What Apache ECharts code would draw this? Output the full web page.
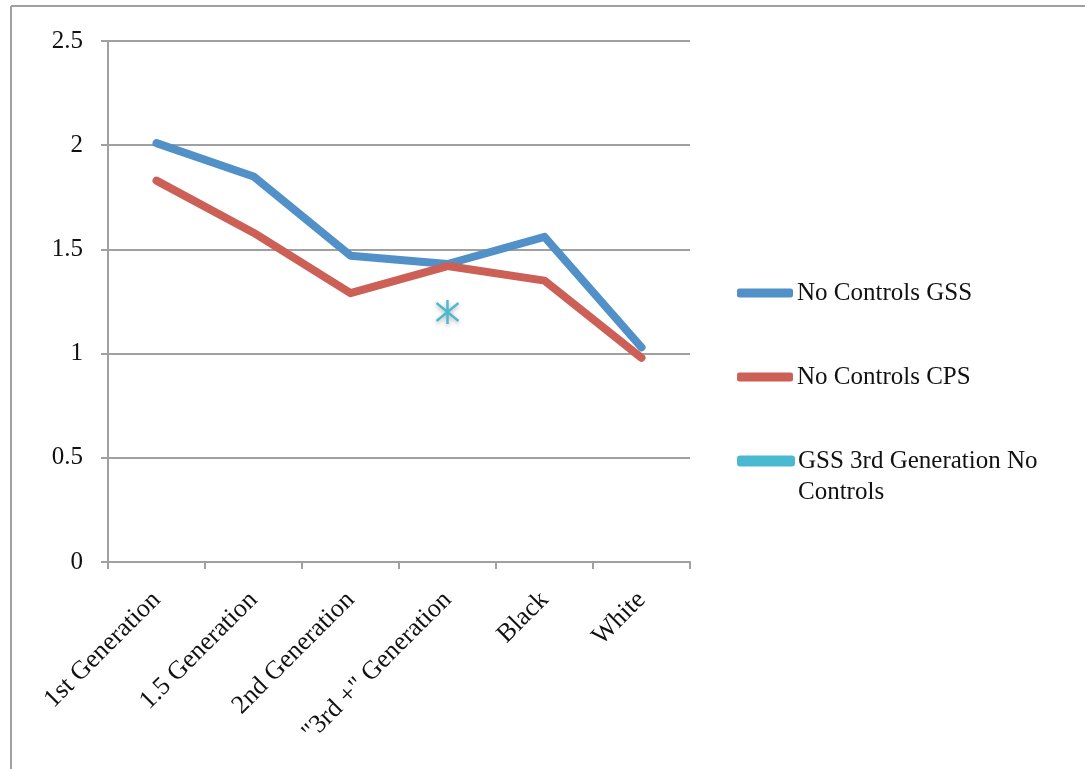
<!DOCTYPE html>
<html>
<head>
<meta charset="utf-8">
<style>
  html, body { margin: 0; padding: 0; background: #ffffff; }
  #chart { width: 1085px; height: 769px; }
</style>
<script src="https://cdn.jsdelivr.net/npm/echarts@6/dist/echarts.min.js"></script>
</head>
<body>
<div id="chart"></div>
<script>
// Categories along the x axis
const categories = ['1st Generation', '1.5 Generation', '2nd Generation', '"3rd +" Generation', 'Black', 'White'];

// Series values
const gssNoControls = [2.01, 1.85, 1.47, 1.43, 1.56, 1.03];
const cpsNoControls = [1.83, 1.58, 1.29, 1.42, 1.35, 0.98];
const gss3rdGenNoControls = [null, null, null, 1.20, null, null];

// Series names
const seriesNames = ['No Controls GSS', 'No Controls CPS', 'GSS 3rd Generation No Controls'];

// Value axis ticks
const yMin = 0, yMax = 2.5, yStep = 0.5;

const FONT = '"Liberation Serif", "DejaVu Serif", serif';
const GREY = '#a0a0a0';
const BLUE = '#5290c8';
const RED = '#cc5f56';
const CYAN = '#4bb9d0';
const LINE_H = 31;

// asterisk marker: vertical stroke crossed by an X
const asterisk = 'path://M11,0 L11,24 M1,3 L21,21 M1,21 L21,3';

const legendText = { fontFamily: FONT, fontSize: 25, color: '#111', lineHeight: LINE_H, padding: [0, 0, 0, -1] };

const chart = echarts.init(document.getElementById('chart'), null, { renderer: 'canvas' });

chart.setOption({
  animation: false,
  backgroundColor: '#ffffff',
  graphic: [
    { type: 'line', shape: { x1: 11, y1: 6, x2: 1085, y2: 6 }, style: { stroke: GREY, lineWidth: 2 } },
    { type: 'line', shape: { x1: 11, y1: 6, x2: 11, y2: 769 }, style: { stroke: GREY, lineWidth: 2 } }
  ],
  grid: { left: 108, top: 41, right: 395, bottom: 207, containLabel: false },
  legend: [
    {
      orient: 'vertical',
      left: 737,
      top: 293 - LINE_H / 2,
      padding: 0,
      itemWidth: 56,
      itemHeight: 9,
      itemGap: 84 - LINE_H,
      icon: 'roundRect',
      textStyle: legendText,
      data: [seriesNames[0], seriesNames[1]]
    },
    {
      // the wrapped label keeps its first line level with the icon
      orient: 'vertical',
      left: 737,
      top: 461 - LINE_H * 1.5,
      padding: 0,
      itemWidth: 56,
      itemHeight: 9,
      icon: 'roundRect',
      textStyle: legendText,
      data: [{ name: seriesNames[2], itemStyle: { color: CYAN } }],
      formatter: function (name) {
        return '\n' + name.replace(/ Controls$/, '\nControls');
      }
    }
  ],
  xAxis: {
    type: 'category',
    data: categories,
    boundaryGap: true,
    axisLine: { lineStyle: { color: GREY, width: 2 } },
    axisTick: { show: true, length: 7, lineStyle: { color: GREY, width: 2 } },
    axisLabel: { rotate: 45, margin: 34, fontFamily: FONT, fontSize: 26, color: '#111', interval: 0 },
    splitLine: { show: false }
  },
  yAxis: {
    type: 'value',
    min: yMin,
    max: yMax,
    interval: yStep,
    axisLine: { show: true, lineStyle: { color: GREY, width: 2 } },
    axisTick: { show: true, length: 7, lineStyle: { color: GREY, width: 2 } },
    axisLabel: { margin: 25, fontFamily: FONT, fontSize: 25, color: '#111' },
    splitLine: { show: true, lineStyle: { color: GREY, width: 2 } }
  },
  series: [
    {
      name: seriesNames[0],
      type: 'line',
      data: gssNoControls,
      color: BLUE,
      symbol: 'none',
      lineStyle: { width: 8, color: BLUE, cap: 'round', join: 'round' },
      z: 3
    },
    {
      name: seriesNames[1],
      type: 'line',
      data: cpsNoControls,
      color: RED,
      symbol: 'none',
      lineStyle: { width: 8, color: RED, cap: 'round', join: 'round' },
      z: 4
    },
    {
      name: seriesNames[2],
      type: 'line',
      data: gss3rdGenNoControls,
      color: CYAN,
      symbol: asterisk,
      symbolSize: [22, 24],
      showSymbol: true,
      lineStyle: { width: 8, color: CYAN },
      itemStyle: {
        color: 'none',
        borderColor: CYAN,
        borderWidth: 2.5,
        shadowBlur: 4,
        shadowColor: 'rgba(0,0,0,0.3)',
        shadowOffsetY: 2
      },
      z: 5
    }
  ]
});
</script>
</body>
</html>
